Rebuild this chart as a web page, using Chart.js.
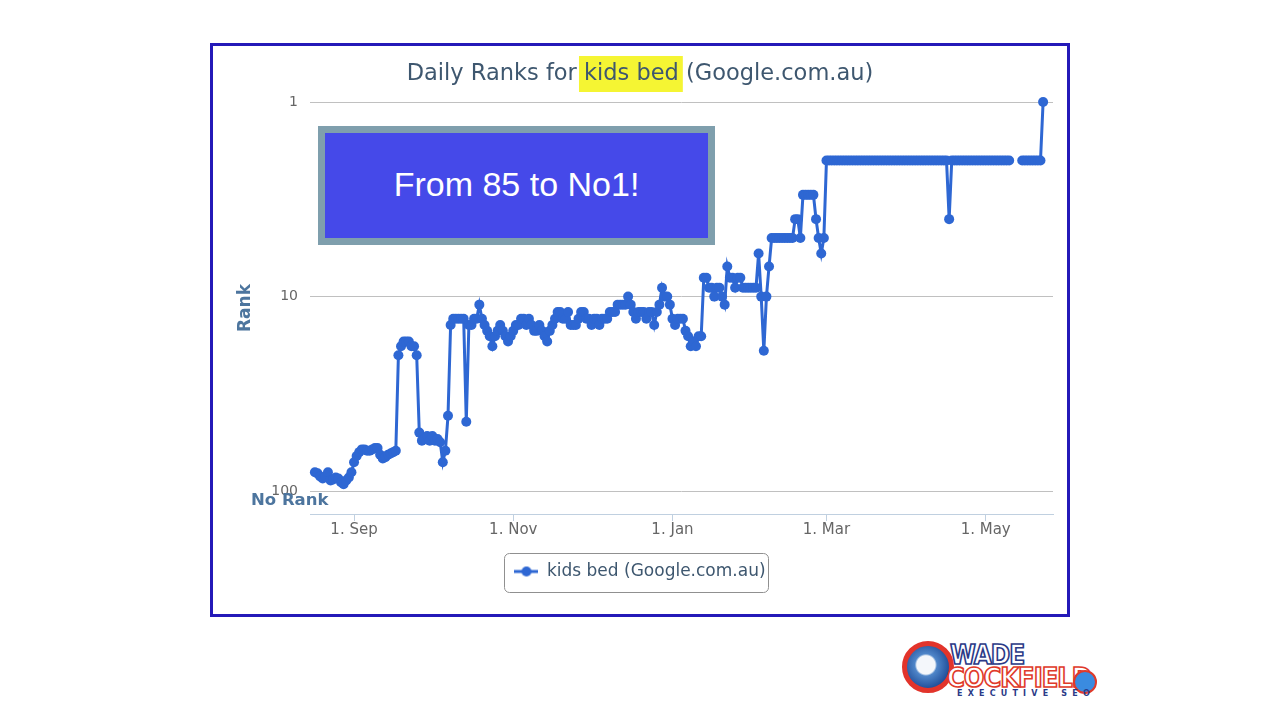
<!DOCTYPE html>
<html>
<head>
<meta charset="utf-8">
<script src="https://cdn.jsdelivr.net/npm/chart.js@4.4.1/dist/chart.umd.min.js"></script>
<style>
  html,body{margin:0;padding:0;background:#fff;}
  body{width:1280px;height:720px;position:relative;overflow:hidden;font-family:"DejaVu Sans",sans-serif;}
  #frame{position:absolute;left:210px;top:43px;width:854px;height:568px;border:3px solid #2419b8;background:#fff;}
  #frame canvas{display:block;}
  #callout{position:absolute;left:318px;top:126px;width:383px;height:103px;border:7px solid #7f9fad;background:#4549e9;color:#fff;
    font:34px "Liberation Sans",Arial,sans-serif;display:flex;align-items:center;justify-content:center;padding-bottom:2px;box-sizing:content-box;}
  #logo .globe{position:absolute;left:902px;top:641px;width:42px;height:42px;border-radius:50%;border:5px solid #e2342b;
    background:radial-gradient(circle at 45% 45%,#f4f7fb 0 28%,#4f86c9 34%,#1d4b97 75%);}
  #logo .w{position:absolute;font-family:"DejaVu Sans",sans-serif;font-stretch:condensed;font-weight:bold;color:#fff;letter-spacing:-1px;}
  #logo .w1{left:950px;top:640px;font-size:26px;-webkit-text-stroke:1.6px #2b3a87;}
  #logo .w2{left:947px;top:662px;font-size:27px;-webkit-text-stroke:1.6px #e03a2a;}
  #logo .w3{position:absolute;left:957px;top:689px;font:bold 8px "DejaVu Sans",sans-serif;letter-spacing:5.2px;color:#2b3a87;}
  #logo .arrow{position:absolute;left:1073px;top:670px;width:20px;height:20px;border-radius:50%;background:#3a8be0;border:2px solid #e03a2a;}
</style>
</head>
<body>
<div id="frame"><canvas id="chart" width="854" height="568"></canvas></div>
<div id="callout">From 85 to No1!</div>
<div id="logo">
  <div class="globe"></div>
  <div class="w w1">WADE</div>
  <div class="w w2">COCKFIELD</div>
  <div class="arrow"></div>
  <div class="w3">EXECUTIVE SEO</div>
</div>
<script>
// daily rank, one array per month (first day given in monthStarts)
const rankAug = [80,81,84,86,84,80,88,87,85,86,90,92,88,85,80];
const rankSep = [71,66,63,61,61,62,62,61,60,60, 65,68,67,65,64,63,62,20,18,17, 17,17,18,18,20,50,55,54,52,55];
const rankOct = [52,55,54,56,71,62,41,14,13,13, 13,13,13,44,14,14,13,13,11,13, 14,15,16,18,16,15,14,15,16,17, 16];
const rankNov = [15,14,14,13,13,14,13,14,15,15, 14,15,16,17,15,14,13,12,12,13, 13,12,14,14,14,13,12,12,13,13];
const rankDec = [14,13,13,14,13,13,13,12,12,12, 11,11,11,11,10,11,12,13,12,12, 12,13,12,12,14,12,11,9,10,10, 11];
const rankJan = [13,14,13,13,13,15,16,18,17,18, 16,16,8,8,9,9,10,9,9,10, 11,7,8,8,9,8,8,9,9,9, 9];
const rankFeb = [9,9,6,10,19,10,7,5,5,5, 5,5,5,5,5,5,4,4,5,3, 3,3,3,3,4,5,6,5];
const rankMar = [2,2,2,2,2,2,2,2,2,2, 2,2,2,2,2,2,2,2,2,2, 2,2,2,2,2,2,2,2,2,2, 2];
const rankApr = [2,2,2,2,2,2,2,2,2,2, 2,2,2,2,2,2,4,2,2,2, 2,2,2,2,2,2,2,2,2,2];
const rankMay = [2,2,2,2,2,2,2,2,2,2, null,null,null,null,2,2,2,2,2,2, 2,2,1];

const monthStarts = [[2014,7,17],[2014,8,1],[2014,9,1],[2014,10,1],[2014,11,1],[2015,0,1],[2015,1,1],[2015,2,1],[2015,3,1],[2015,4,1]];
const monthRanks = [rankAug,rankSep,rankOct,rankNov,rankDec,rankJan,rankFeb,rankMar,rankApr,rankMay];

const tickDates = [Date.UTC(2014,8,1),Date.UTC(2014,10,1),Date.UTC(2015,0,1),Date.UTC(2015,2,1),Date.UTC(2015,4,1)];
const tickLabels = ['1. Sep','1. Nov','1. Jan','1. Mar','1. May'];
const rankTicks = [1,10,100];

const seriesName = 'kids bed (Google.com.au)';
const titleParts = ['Daily Ranks for ','kids bed',' (Google.com.au)'];
const color = '#2e67d3';

const points = [];
monthRanks.forEach((arr,m)=>{
  const [yy,mo,dd] = monthStarts[m];
  arr.forEach((v,i)=>points.push({x:Date.UTC(yy,mo,dd+i), y:v}));
});

// legend symbol: line with a dot
const sym = document.createElement('canvas');
sym.width = 24; sym.height = 12;
(function(){
  const g = sym.getContext('2d');
  g.strokeStyle = color; g.lineWidth = 3;
  g.beginPath(); g.moveTo(0,6); g.lineTo(24,6); g.stroke();
  g.fillStyle = color; g.beginPath(); g.arc(12,6,5,0,Math.PI*2); g.fill();
})();

const extras = {
  id:'extras',
  afterDraw(chart){
    const ctx = chart.ctx;
    ctx.save();
    // title with highlighted keyword
    ctx.font = '22.5px "DejaVu Sans"';
    const w = titleParts.map(t=>ctx.measureText(t).width);
    let x = chart.width/2 - (w[0]+w[1]+w[2])/2;
    ctx.fillStyle = '#f5f533';
    ctx.fillRect(x+w[0]-5, 10, w[1]+9, 36);
    ctx.fillStyle = '#3e576f';
    ctx.textBaseline = 'middle';
    titleParts.forEach((t,i)=>{ ctx.fillText(t, x, 28); x += w[i]; });
    // "No Rank" label
    const ys = chart.scales.y;
    ctx.font = 'bold 16.5px "DejaVu Sans"';
    ctx.fillStyle = '#4d759e';
    ctx.fillText('No Rank', 38, ys.getPixelForValue(111)+1);
    // legend border
    const hb = chart.legend.legendHitBoxes[0];
    if(hb){
      ctx.strokeStyle = '#909090'; ctx.lineWidth = 1;
      ctx.beginPath();
      ctx.roundRect(Math.round(hb.left-10)+0.5, Math.round(hb.top+hb.height/2-19)+0.5, Math.round(hb.width+13), 39, 5);
      ctx.stroke();
    }
    ctx.restore();
  }
};

Chart.defaults.font.family = '"DejaVu Sans", sans-serif';
new Chart(document.getElementById('chart'), {
  type:'line',
  data:{ datasets:[{
    label:seriesName, data:points, borderColor:color, backgroundColor:color,
    borderWidth:3, pointRadius:5, pointBorderWidth:0, pointBackgroundColor:color,
    spanGaps:false, tension:0, clip:8
  }]},
  options:{
    responsive:false, animation:false,
    layout:{ padding:{top:56, right:14, left:14, bottom:24} },
    plugins:{
      title:{display:false}, tooltip:{enabled:false},
      legend:{ position:'bottom', labels:{ usePointStyle:true, pointStyle:sym, pointStyleWidth:24, padding:10,
        color:'#3e576f', font:{size:17} } }
    },
    scales:{
      x:{ type:'linear', min:Date.UTC(2014,7,15,3), max:Date.UTC(2015,4,26,19),
        afterBuildTicks:s=>{ s.ticks = tickDates.map(v=>({value:v})); },
        afterFit:s=>{ s.height = 39; },
        ticks:{ autoSkip:false, maxRotation:0, padding:0, color:'#666', font:{size:15}, callback:(v,i)=>tickLabels[i] },
        grid:{ display:true, drawOnChartArea:false, drawTicks:true, tickLength:7, color:'#c0d0e0' },
        border:{ display:true, color:'#c0d0e0' }
      },
      y:{ type:'logarithmic', reverse:true, min:1, max:131,
        afterBuildTicks:s=>{ s.ticks = rankTicks.map(v=>({value:v})); },
        afterFit:s=>{ s.width = 83; },
        ticks:{ padding:12, color:'#666', font:{size:14}, callback:v=>String(v) },
        grid:{ color:'#c0c0c0', drawTicks:false },
        border:{ display:false },
        title:{ display:true, text:'Rank', color:'#4d759e', font:{size:17, weight:'bold'}, padding:{top:8, bottom:0} }
      }
    }
  },
  plugins:[extras]
});
</script>
</body>
</html>
